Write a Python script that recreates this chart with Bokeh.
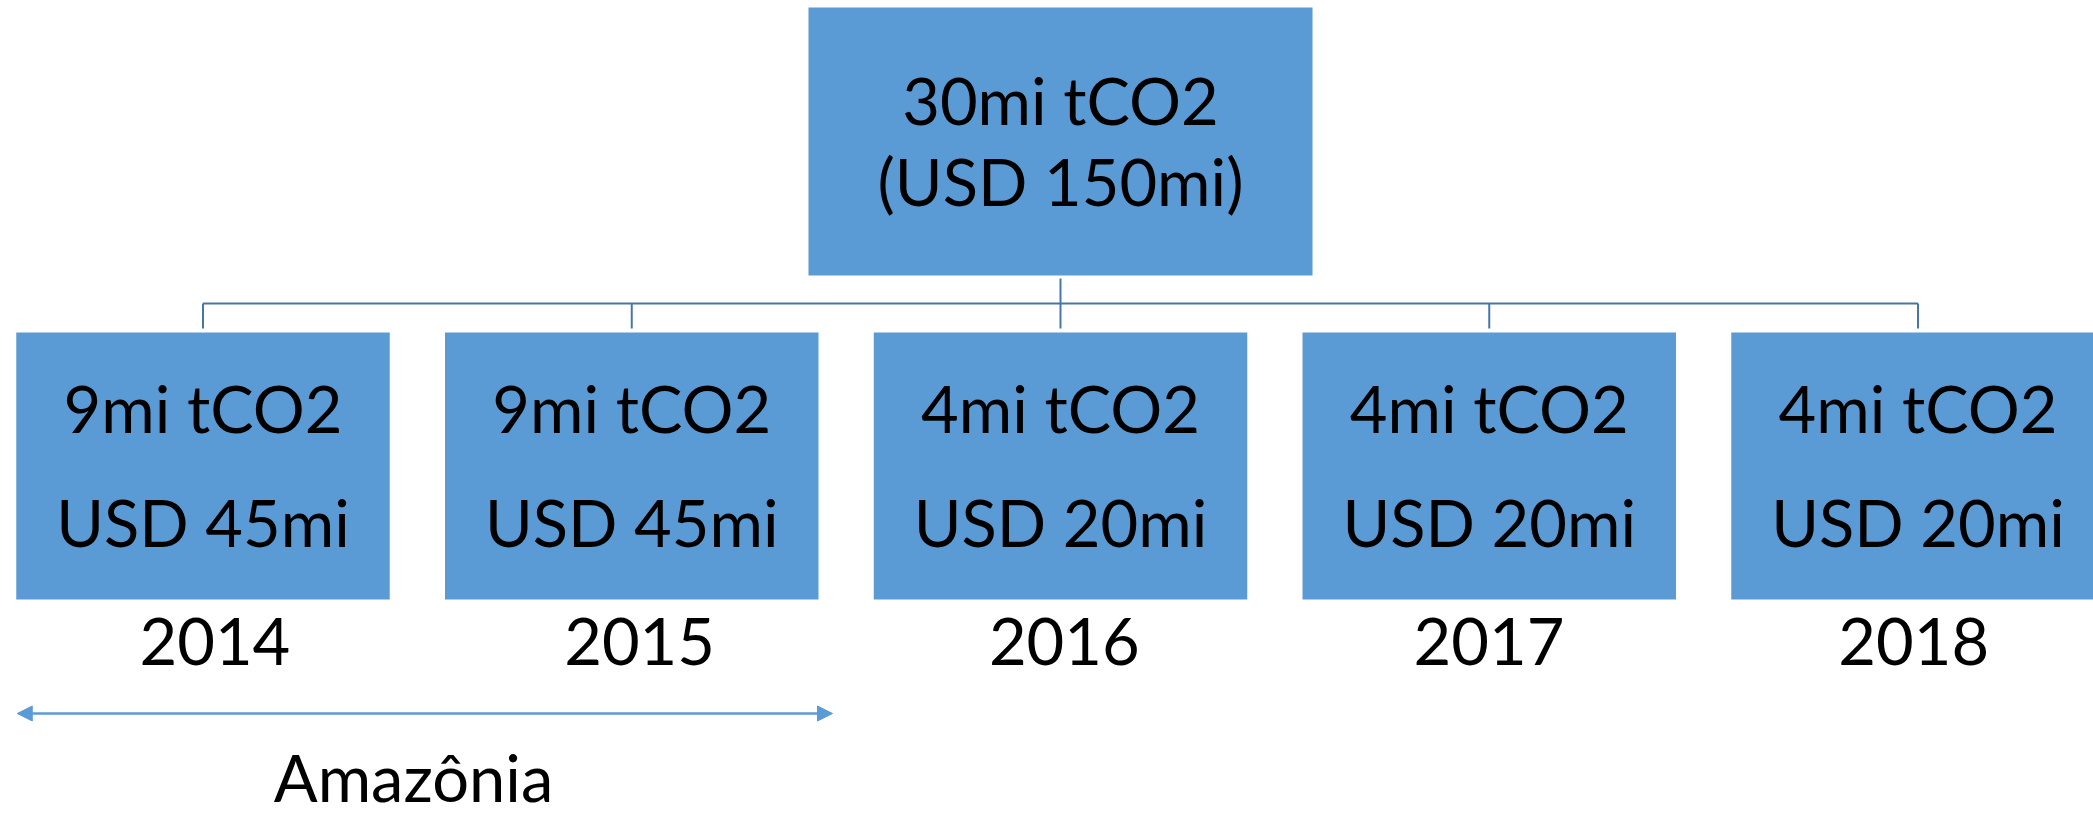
from bokeh.plotting import figure
from bokeh.models import Range1d, Arrow, NormalHead
from bokeh.embed import file_html
from bokeh.resources import INLINE
from bokeh.core.properties import value

# ---- data ----
years = ["2014", "2015", "2016", "2017", "2018"]
tco2_mi = [9, 9, 4, 4, 4]
usd_mi = [45, 45, 20, 20, 20]
total_tco2_mi = 30
total_usd_mi = 150
region_label = "Amazônia"
region_years = ["2014", "2015"]

# ---- style ----
BOX_FILL = "#5B9BD5"
LINK = "#4676A9"
ARROW_C = "#5B9BD5"
FONT = "Lato"
FS = "65px"
TEXT_SHIFT = -23  # compensates renderer baseline offset

W, H = 2093, 814
p = figure(width=W, height=H, output_backend="svg", toolbar_location=None,
           x_range=Range1d(0, W), y_range=Range1d(H, 0),
           x_axis_location=None, y_axis_location=None, min_border=0,
           outline_line_color=None, title=None)
p.grid.visible = False
p.background_fill_color = "white"
p.border_fill_color = "white"

n = len(years)
cx = 1060.0
pitch = 428.75
bw = 373.5
centers = [cx + (i - (n - 1) / 2) * pitch for i in range(n)]
box_top, box_bot = 332, 599

# top box
p.quad(left=[cx - 252], right=[cx + 252], top=[7], bottom=[275],
       fill_color=BOX_FILL, line_color=None)
# child boxes
p.quad(left=[c - bw / 2 for c in centers], right=[c + bw / 2 for c in centers],
       top=[box_top] * n, bottom=[box_bot] * n,
       fill_color=BOX_FILL, line_color=None)

# connectors
p.segment(x0=[centers[0]], y0=[303], x1=[centers[-1]], y1=[303],
          line_color=LINK, line_width=2)
p.segment(x0=centers, y0=[303] * n, x1=centers, y1=[328] * n,
          line_color=LINK, line_width=2)
p.segment(x0=[cx], y0=[278], x1=[cx], y1=[303], line_color=LINK, line_width=2)

common = dict(text_font=value(FONT), text_font_size=FS, text_align="center",
              text_baseline="alphabetic", text_color="black")

def ty(v):
    return v + TEXT_SHIFT

# top box text
p.text(x=[cx, cx], y=[ty(122), ty(203)],
       text=[f"{total_tco2_mi}mi tCO2", f"(USD {total_usd_mi}mi)"], **common)

# child box texts
p.text(x=centers, y=[ty(430)] * n, text=[f"{v}mi tCO2" for v in tco2_mi], **common)
p.text(x=centers, y=[ty(544)] * n, text=[f"USD {u}mi" for u in usd_mi], **common)

# year labels
year_x = [1063.8 + (i - (n - 1) / 2) * 424.7 for i in range(n)]
p.text(x=year_x, y=[ty(664)] * n, text=years, **common)

# region arrow
i0 = years.index(region_years[0])
i1 = years.index(region_years[-1])
ax0 = centers[i0] - bw / 2 + 1
ax1 = centers[i1] + bw / 2 + 14
p.add_layout(Arrow(start=NormalHead(size=15, fill_color=ARROW_C, line_color=ARROW_C),
                   end=NormalHead(size=15, fill_color=ARROW_C, line_color=ARROW_C),
                   x_start=ax0, y_start=713, x_end=ax1, y_end=713,
                   line_color=ARROW_C, line_width=2.5))
p.text(x=[413], y=[ty(799)], text=[region_label], **common)

open("out.html", "w").write(file_html(p, INLINE))
